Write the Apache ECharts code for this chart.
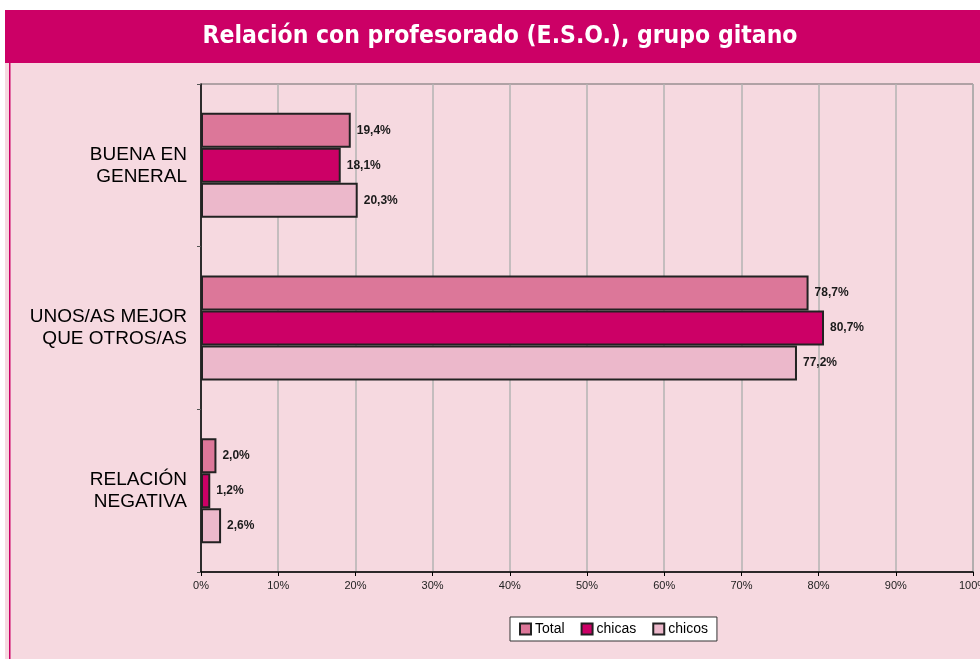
<!DOCTYPE html>
<html>
<head>
<meta charset="utf-8">
<script src="https://cdn.jsdelivr.net/npm/echarts@6/dist/echarts.min.js"></script>
<style>
  html, body { margin: 0; padding: 0; background: #fff; }
  #chart { width: 980px; height: 659px; }
</style>
</head>
<body>
<div id="chart"></div>
<script>
  // datos
  var categorias = ['BUENA EN\nGENERAL', 'UNOS/AS MEJOR\nQUE OTROS/AS', 'RELACIÓN\nNEGATIVA']
  var total = [19.4, 78.7, 2.0]
  var chicas = [18.1, 80.7, 1.2]
  var chicos = [20.3, 77.2, 2.6]
  var ticksX = [0, 10, 20, 30, 40, 50, 60, 70, 80, 90, 100]

  var myChart = echarts.init(document.getElementById('chart'))

  function etiqueta (p) {
    return p.value.toFixed(1).replace('.', ',') + '%'
  }

  function serie (name, data, color) {
    return {
      name: name,
      type: 'bar',
      data: data,
      barWidth: 35,
      barGap: '0%',
      itemStyle: {
        color: color,
        borderColor: '#222',
        borderWidth: 2
      },
      label: {
        show: true,
        position: 'right',
        distance: 6,
        formatter: etiqueta,
        fontFamily: 'Liberation Sans, Arial',
        fontSize: 12,
        fontWeight: 'bold',
        color: '#1a1a1a'
      }
    }
  }

  var option = {
    backgroundColor: '#fff',
    animation: false,
    graphic: [
      { type: 'rect', shape: { x: 5, y: 63, width: 975, height: 596 }, style: { fill: '#f6d9e0' }, z: -10 },
      { type: 'rect', shape: { x: 9, y: 63, width: 1.5, height: 596 }, style: { fill: '#cc0066' }, z: -9 },
      { type: 'rect', shape: { x: 5, y: 10, width: 975, height: 53 }, style: { fill: '#cc0066' }, z: -9 },
      {
        type: 'text',
        x: 500,
        y: 37,
        style: {
          text: 'Relación con profesorado (E.S.O.), grupo gitano',
          fill: '#fff',
          align: 'center',
          verticalAlign: 'middle',
          fontFamily: 'DejaVu Sans Condensed, DejaVu Sans',
          fontSize: 24.5,
          fontWeight: 'bold'
        }
      }
    ],
    grid: {
      left: 201,
      right: 7,
      top: 84,
      bottom: 87,
      outerBoundsMode: 'none',
      show: true,
      borderColor: '#6b6b6b',
      borderWidth: 1
    },
    legend: {
      data: ['Total', 'chicas', 'chicos'],
      left: 510,
      top: 617,
      backgroundColor: '#fff',
      borderColor: '#333',
      borderWidth: 1,
      padding: [5, 9],
      itemWidth: 11,
      itemHeight: 11,
      itemGap: 16,
      icon: 'rect',
      textStyle: {
        fontFamily: 'Liberation Sans, Arial',
        fontSize: 14,
        color: '#000',
        padding: [0, 0, 0, -1]
      }
    },
    xAxis: {
      type: 'value',
      min: 0,
      max: 100,
      interval: 10,
      axisLine: { show: true, lineStyle: { color: '#000', width: 1.5 } },
      axisTick: { show: true, length: 4, lineStyle: { color: '#000' } },
      axisLabel: {
        formatter: function (v) { return ticksX.indexOf(v) >= 0 ? v + '%' : '' },
        fontFamily: 'Liberation Sans, Arial',
        fontSize: 11,
        color: '#222',
        margin: 8
      },
      splitLine: { show: true, lineStyle: { color: '#b3b3b3', width: 1.5 } }
    },
    yAxis: {
      type: 'category',
      data: categorias,
      inverse: true,
      axisLine: { show: true, lineStyle: { color: '#000', width: 1.5 } },
      axisTick: { show: true, length: 4, lineStyle: { color: '#555' } },
      axisLabel: {
        fontFamily: 'Liberation Sans, Arial',
        fontSize: 19,
        lineHeight: 22,
        color: '#000',
        align: 'right',
        margin: 14
      }
    },
    series: [
      serie('Total', total, '#dc7799'),
      serie('chicas', chicas, '#cc0066'),
      serie('chicos', chicos, '#ecb8cb')
    ]
  }
  myChart.setOption(option)
</script>
</body>
</html>
